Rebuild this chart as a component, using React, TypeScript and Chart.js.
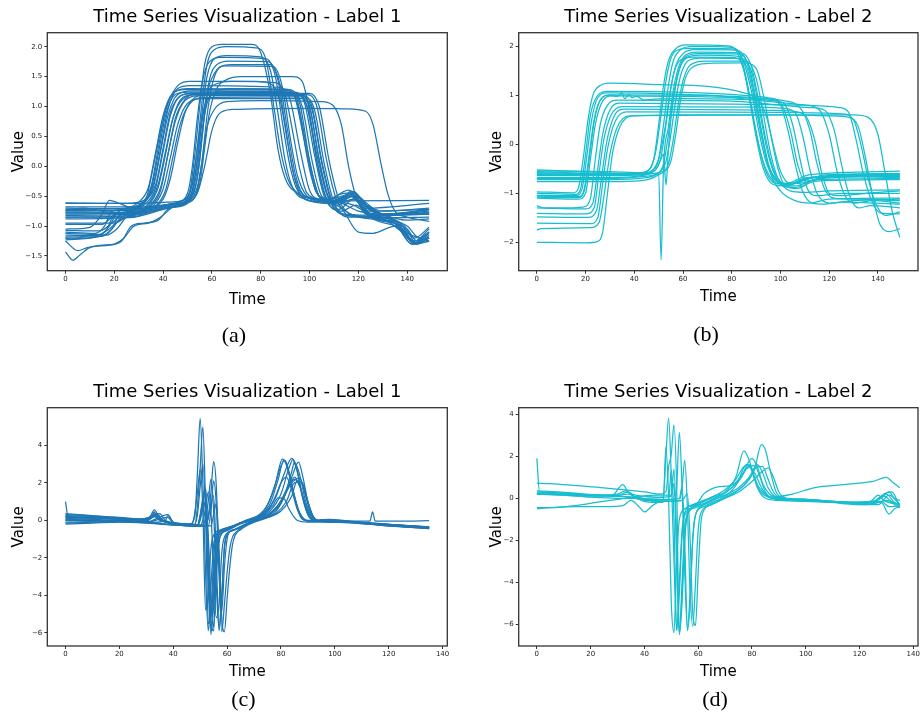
import React, { useEffect, useRef } from "react";
import { Chart, registerables } from "chart.js";

Chart.register(...registerables);

type Pt = [number, number];

const FONT = "'DejaVu Sans', sans-serif";
const BLUE = "#1f77b4";
const CYAN = "#17becf";

// ---------- text ----------
const titleLabel1 = "Time Series Visualization - Label 1";
const titleLabel2 = "Time Series Visualization - Label 2";
const xAxisLabel = "Time";
const yAxisLabel = "Value";
const captions = ["(a)", "(b)", "(c)", "(d)"];

// ---------- ticks ----------
const xTicksTop = [0, 20, 40, 60, 80, 100, 120, 140];
const xTicksBottom = [0, 20, 40, 60, 80, 100, 120, 140];
const yTicksA = [-1.5, -1.0, -0.5, 0, 0.5, 1.0, 1.5, 2.0];
const yTicksB = [-2, -1, 0, 1, 2];
const yTicksC = [-6, -4, -2, 0, 2, 4];
const yTicksD = [-6, -4, -2, 0, 2, 4];

// ---------- axis limits ----------
const xLimitsTop = [-7.45, 156.45];
const xLimitsBottom = [-6.75, 141.75];
const yLimitsA = [-1.746, 2.234];
const yLimitsB = [-2.58, 2.278];
const yLimitsC = [-6.71, 6.01];
const yLimitsD = [-7.03, 4.31];

// ---------- series (time, value) ----------
const seriesA: Pt[][] = [
  [[0,-0.61],[25,-0.62],[33,-0.55],[37,-0.3],[40,0.3],[43,0.9],[47,1.17],[52,1.22],[95,1.21],[99,1.0],[103,0.2],[107,-0.45],[111,-0.58],[149,-0.57]],
  [[0,-0.7],[20,-0.71],[32,-0.6],[36,-0.35],[39,0.25],[42,0.85],[46,1.2],[52,1.26],[94,1.24],[98,1.05],[102,0.2],[106,-0.5],[112,-0.72],[118,-0.55],[124,-0.75],[149,-0.72]],
  [[0,-0.74],[22,-0.74],[31,-0.62],[35,-0.35],[38,0.3],[41,0.95],[45,1.25],[50,1.3],[92,1.28],[96,1.05],[100,0.1],[104,-0.5],[110,-0.6],[117,-0.45],[123,-0.8],[135,-0.9],[143,-1.3],[149,-1.2]],
  [[0,-0.78],[25,-0.77],[34,-0.62],[38,-0.3],[41,0.25],[44,0.8],[48,1.12],[54,1.2],[96,1.2],[100,1.0],[104,0.1],[108,-0.55],[114,-0.8],[130,-0.82],[149,-0.8]],
  [[0,-0.82],[26,-0.8],[35,-0.64],[39,-0.35],[42,0.2],[45,0.75],[49,1.1],[55,1.18],[97,1.18],[101,1.0],[105,0.1],[109,-0.55],[115,-0.82],[128,-0.85],[138,-1.1],[143,-1.25],[149,-1.05]],
  [[0,-0.85],[28,-0.84],[37,-0.66],[41,-0.4],[44,0.15],[47,0.7],[51,1.05],[57,1.15],[98,1.16],[102,0.95],[106,0.05],[110,-0.6],[116,-0.85],[149,-0.78]],
  [[0,-1.1],[12,-1.12],[16,-1.0],[19,-0.75],[24,-0.72],[31,-0.64],[35,-0.4],[38,0.2],[41,0.85],[45,1.2],[50,1.24],[93,1.23],[97,1.0],[101,0.1],[105,-0.5],[111,-0.62],[117,-0.5],[124,-0.82],[137,-1.0],[143,-1.3],[149,-1.15]],
  [[0,-1.15],[13,-1.16],[17,-1.05],[20,-0.8],[26,-0.76],[33,-0.62],[37,-0.35],[40,0.25],[43,0.85],[47,1.18],[52,1.22],[95,1.22],[99,1.0],[103,0.1],[107,-0.55],[113,-0.75],[119,-0.65],[125,-0.85],[140,-1.05],[144,-1.25],[149,-1.1]],
  [[0,-1.18],[15,-1.17],[19,-1.05],[22,-0.82],[28,-0.78],[34,-0.65],[38,-0.35],[41,0.2],[44,0.8],[48,1.15],[53,1.2],[96,1.2],[100,1.0],[104,0.1],[108,-0.55],[113,-0.6],[118,-0.45],[124,-0.7],[132,-0.85],[139,-1.1],[145,-1.2],[149,-1.25]],
  [[0,-1.2],[3,-1.22],[10,-1.15],[17,-1.15],[21,-1.05],[25,-0.85],[30,-0.78],[36,-0.66],[40,-0.38],[43,0.15],[46,0.7],[50,1.05],[56,1.13],[97,1.13],[101,0.95],[105,0.05],[109,-0.6],[115,-0.82],[132,-0.86],[149,-0.85]],
  [[0,-0.97],[15,-0.97],[19,-0.85],[23,-0.73],[30,-0.68],[33,-0.58],[36,-0.3],[39,0.3],[42,0.95],[46,1.3],[51,1.35],[88,1.32],[92,1.12],[96,0.3],[100,-0.4],[104,-0.55],[112,-0.58],[118,-0.42],[124,-0.72],[132,-0.8],[149,-0.73]],
  [[0,-1.05],[10,-1.02],[15,-0.8],[18,-0.57],[22,-0.62],[28,-0.7],[33,-0.55],[36,0.0],[39,0.6],[42,1.05],[46,1.35],[51,1.42],[78,1.42],[84,1.38],[88,1.1],[91,0.4],[94,-0.2],[98,-0.5],[106,-0.56],[115,-0.45],[121,-0.55],[128,-0.8],[149,-0.78]],
  [[0,-1.23],[5,-1.22],[12,-1.18],[18,-1.05],[22,-0.9],[27,-0.82],[33,-0.72],[40,-0.55],[43,-0.2],[46,0.4],[49,0.9],[53,1.15],[58,1.2],[99,1.2],[103,1.0],[107,0.1],[111,-0.55],[117,-0.8],[125,-0.88],[135,-0.95],[142,-1.25],[149,-1.2]],
  [[0,-0.74],[8,-0.7],[16,-0.75],[25,-0.7],[30,-0.6],[34,-0.35],[37,0.25],[40,0.85],[44,1.22],[49,1.28],[91,1.27],[95,1.05],[99,0.2],[103,-0.45],[108,-0.55],[116,-0.48],[122,-0.62],[130,-0.75],[149,-0.7]],
  [[0,-1.12],[14,-1.14],[18,-1.0],[21,-0.8],[27,-0.76],[35,-0.66],[39,-0.4],[42,0.2],[45,0.8],[49,1.12],[54,1.22],[100,1.22],[104,1.0],[108,0.1],[112,-0.55],[118,-0.82],[130,-0.85],[138,-1.0],[143,-1.2],[149,-1.02]],
  [[0,-0.62],[30,-0.62],[42,-0.6],[48,-0.57],[51,-0.4],[53,0.2],[55,1.0],[57,1.7],[60,2.0],[64,2.04],[76,2.04],[80,1.9],[84,1.2],[87,0.3],[90,-0.2],[95,-0.45],[100,-0.52],[110,-0.58],[117,-0.45],[123,-0.7],[149,-0.62]],
  [[0,-0.72],[32,-0.7],[44,-0.62],[49,-0.55],[52,-0.3],[54,0.3],[56,1.1],[58,1.7],[61,1.95],[66,2.0],[78,1.98],[82,1.8],[85,1.1],[88,0.3],[91,-0.2],[95,-0.45],[101,-0.55],[112,-0.6],[118,-0.5],[125,-0.8],[137,-0.95],[143,-1.28],[149,-1.18]],
  [[0,-0.75],[30,-0.73],[43,-0.65],[49,-0.6],[52,-0.4],[54,0.1],[56,0.9],[58,1.5],[61,1.8],[66,1.85],[80,1.83],[84,1.6],[87,0.9],[90,0.1],[93,-0.35],[98,-0.55],[106,-0.6],[116,-0.4],[122,-0.6],[130,-0.82],[149,-0.8]],
  [[0,-0.8],[25,-0.78],[40,-0.68],[46,-0.6],[50,-0.45],[52,0.0],[54,0.8],[56,1.4],[59,1.75],[64,1.82],[82,1.8],[86,1.5],[89,0.7],[92,0.0],[95,-0.4],[100,-0.58],[108,-0.62],[118,-0.5],[125,-0.85],[138,-1.05],[144,-1.3],[149,-1.25]],
  [[0,-0.78],[30,-0.78],[44,-0.66],[50,-0.6],[53,-0.4],[55,0.1],[57,0.9],[59,1.45],[62,1.7],[67,1.76],[83,1.75],[87,1.45],[90,0.7],[93,-0.05],[96,-0.45],[101,-0.58],[110,-0.62],[119,-0.55],[126,-0.82],[149,-0.75]],
  [[0,-0.85],[28,-0.82],[42,-0.7],[50,-0.62],[54,-0.4],[56,0.1],[58,0.85],[60,1.35],[63,1.65],[68,1.7],[84,1.7],[88,1.35],[91,0.6],[94,-0.1],[97,-0.45],[102,-0.55],[112,-0.6],[120,-0.75],[130,-0.82],[139,-1.0],[144,-1.3],[149,-1.2]],
  [[0,-1.43],[3,-1.57],[6,-1.48],[10,-1.36],[18,-1.32],[23,-1.25],[27,-1.0],[32,-0.95],[38,-0.9],[42,-0.72],[47,-0.65],[51,-0.55],[54,-0.2],[56,0.5],[58,1.2],[61,1.55],[65,1.68],[85,1.67],[89,1.3],[92,0.5],[95,-0.15],[99,-0.5],[105,-0.6],[113,-0.7],[120,-1.1],[126,-1.12],[135,-1.0],[142,-1.3],[149,-1.25]],
  [[0,-1.25],[5,-1.41],[9,-1.36],[15,-1.32],[20,-1.3],[24,-1.2],[28,-1.0],[34,-0.95],[39,-0.85],[44,-0.68],[50,-0.6],[55,-0.3],[57,0.3],[59,0.9],[62,1.3],[66,1.45],[72,1.5],[93,1.5],[97,1.42],[100,0.9],[103,0.1],[106,-0.45],[111,-0.65],[118,-0.55],[125,-0.8],[149,-0.78]],
  [[0,-1.07],[14,-1.08],[19,-0.95],[24,-0.78],[32,-0.7],[42,-0.64],[49,-0.58],[52,-0.4],[54,0.1],[56,0.75],[58,1.2],[62,1.38],[68,1.42],[86,1.4],[90,1.2],[93,0.6],[96,-0.05],[99,-0.45],[104,-0.55],[112,-0.58],[117,-0.42],[123,-0.6],[130,-0.8],[149,-0.72]],
  [[0,-0.68],[30,-0.68],[44,-0.63],[50,-0.58],[54,-0.35],[56,0.1],[58,0.65],[61,0.95],[66,1.08],[80,1.1],[105,1.08],[110,1.0],[113,0.7],[116,0.0],[119,-0.5],[123,-0.75],[130,-0.85],[140,-1.0],[145,-1.2],[149,-1.1]],
  [[0,-0.88],[26,-0.86],[40,-0.72],[48,-0.62],[54,-0.45],[57,0.0],[60,0.6],[63,0.88],[68,0.95],[100,0.97],[115,0.96],[123,0.92],[126,0.7],[129,0.1],[132,-0.45],[135,-0.75],[140,-0.85],[149,-0.92]],
  [[0,-1.2],[8,-1.2],[15,-1.16],[19,-1.05],[23,-0.85],[30,-0.78],[40,-0.7],[48,-0.63],[52,-0.45],[54,-0.05],[56,0.6],[58,1.05],[62,1.25],[67,1.3],[90,1.29],[94,1.15],[97,0.6],[100,-0.05],[103,-0.45],[108,-0.58],[116,-0.5],[122,-0.62],[130,-0.8],[140,-0.9],[149,-0.88]],
  [[0,-0.95],[20,-0.95],[25,-0.85],[32,-0.78],[42,-0.68],[48,-0.62],[51,-0.45],[53,0.0],[55,0.6],[57,1.0],[60,1.2],[65,1.25],[92,1.24],[95,1.1],[98,0.5],[101,-0.1],[104,-0.5],[110,-0.6],[118,-0.65],[126,-0.85],[135,-0.95],[142,-1.3],[149,-1.12]],
];

const seriesB: Pt[][] = [
  [[0,-0.97],[15,-0.99],[17,-0.9],[19,-0.3],[21,0.5],[23,1.0],[26,1.2],[30,1.25],[50,1.22],[70,1.18],[85,1.05],[90,0.95],[94,0.6],[97,0.0],[100,-0.55],[104,-0.8],[110,-0.78],[120,-0.65],[149,-0.62]],
  [[0,-1.0],[16,-1.02],[18,-0.9],[20,-0.2],[22,0.6],[25,1.0],[29,1.08],[60,1.06],[85,1.0],[95,0.95],[100,0.85],[104,0.3],[107,-0.4],[110,-0.75],[115,-0.72],[125,-0.62],[149,-0.6]],
  [[0,-1.04],[16,-1.05],[18.5,-0.92],[20.5,-0.25],[22.5,0.5],[25,0.95],[29,1.05],[60,1.02],[90,0.95],[100,0.9],[108,0.75],[112,0.3],[115,-0.4],[118,-0.9],[122,-1.1],[130,-1.12],[149,-1.15]],
  [[0,-1.08],[17,-1.09],[19.5,-0.95],[21.5,-0.3],[23.5,0.45],[26,0.9],[30,1.01],[70,1.0],[90,0.9],[100,0.85],[110,0.8],[116,0.7],[120,0.2],[123,-0.5],[126,-1.0],[130,-1.2],[138,-1.15],[149,-1.2]],
  [[0,-1.1],[17,-1.12],[20,-1.0],[22,-0.3],[24,0.4],[27,0.88],[31,0.99],[70,0.97],[95,0.92],[100,0.8],[103,0.3],[106,-0.4],[109,-0.95],[113,-1.2],[118,-1.22],[125,-1.18],[149,-1.22]],
  [[0,-1.25],[3,-1.3],[10,-1.3],[19,-1.28],[22,-1.1],[24,-0.3],[26,0.4],[29,0.8],[33,0.9],[80,0.88],[100,0.8],[112,0.75],[118,0.7],[122,0.3],[125,-0.4],[128,-1.0],[132,-1.3],[137,-1.25],[149,-1.3]],
  [[0,-1.3],[20,-1.32],[23,-1.2],[25,-0.5],[27,0.2],[30,0.7],[34,0.84],[80,0.82],[110,0.8],[124,0.75],[128,0.65],[131,0.1],[134,-0.6],[137,-1.1],[141,-1.4],[149,-1.42]],
  [[0,-1.41],[20,-1.42],[23.5,-1.3],[25.5,-0.6],[27.5,0.1],[30.5,0.6],[35,0.77],[90,0.76],[100,0.74],[106,0.65],[109,0.2],[112,-0.5],[115,-1.0],[120,-1.2],[130,-1.15],[149,-1.12]],
  [[0,-1.48],[21,-1.49],[24.5,-1.35],[26.5,-0.7],[28.5,0.0],[31.5,0.55],[36,0.72],[90,0.7],[104,0.68],[110,0.6],[114,0.1],[117,-0.6],[120,-1.0],[124,-1.05],[135,-1.0],[149,-0.95]],
  [[0,-1.61],[22,-1.62],[25,-1.5],[27,-0.8],[29,-0.1],[32,0.45],[37,0.66],[100,0.65],[125,0.62],[130,0.5],[133,0.0],[136,-0.7],[139,-1.2],[143,-1.45],[149,-1.38]],
  [[0,-1.75],[2,-1.72],[22,-1.7],[25.5,-1.6],[28,-0.9],[30,-0.2],[33,0.35],[38,0.58],[100,0.6],[130,0.6],[136,0.55],[140,0.2],[143,-0.6],[146,-1.4],[149,-1.9]],
  [[0,-2.0],[20,-2.01],[25,-1.98],[27,-1.8],[29,-1.0],[31,-0.2],[34,0.35],[39,0.58],[60,0.6],[100,0.6],[120,0.58],[128,0.55],[132,0.35],[135,-0.3],[138,-1.1],[141,-1.65],[145,-1.78],[149,-1.72]],
  [[0,-1.06],[17,-1.07],[19.5,-0.9],[21.5,-0.2],[23.5,0.5],[26,0.9],[30,1.0],[33,0.98],[35,1.05],[36,0.93],[38,1.02],[39,0.95],[41,0.98],[44,0.9],[48,0.92],[60,0.93],[80,0.92],[95,0.9],[101,0.85],[105,0.4],[108,-0.3],[111,-0.9],[115,-1.05],[125,-1.0],[149,-1.0]],
  [[0,-0.52],[20,-0.56],[40,-0.6],[45,-0.55],[48,-0.3],[50,0.4],[52,1.2],[54,1.7],[57,1.95],[61,2.03],[78,2.01],[82,1.9],[86,1.3],[89,0.5],[92,-0.2],[95,-0.6],[99,-0.8],[104,-0.78],[112,-0.62],[149,-0.55]],
  [[0,-0.56],[25,-0.6],[42,-0.62],[47,-0.55],[50,-0.3],[52,0.4],[54,1.2],[56,1.7],[59,1.93],[64,2.0],[80,1.98],[84,1.8],[88,1.1],[91,0.3],[94,-0.35],[98,-0.72],[103,-0.82],[110,-0.72],[120,-0.62],[149,-0.6]],
  [[0,-0.6],[30,-0.62],[44,-0.6],[49,-0.5],[51,-0.25],[53,0.4],[55,1.15],[57,1.6],[60,1.85],[65,1.93],[82,1.92],[86,1.7],[89,1.1],[92,0.3],[95,-0.4],[99,-0.75],[104,-0.82],[112,-0.7],[125,-0.65],[149,-0.68]],
  [[0,-0.64],[30,-0.64],[44,-0.62],[48,-0.6],[50,-0.62],[51,-2.36],[52,-0.45],[54,0.35],[56,1.1],[58,1.55],[61,1.82],[66,1.88],[84,1.86],[88,1.6],[91,0.9],[94,0.1],[97,-0.5],[101,-0.8],[106,-0.85],[115,-0.72],[149,-0.7]],
  [[0,-0.68],[30,-0.68],[45,-0.62],[49,-0.5],[51,-0.3],[52,-0.2],[53,-0.83],[54,-0.1],[55,0.5],[57,1.2],[59,1.6],[62,1.78],[67,1.82],[82,1.8],[86,1.6],[89,1.0],[92,0.2],[95,-0.45],[99,-0.78],[104,-0.8],[112,-0.68],[149,-0.65]],
  [[0,-0.72],[30,-0.72],[45,-0.68],[50,-0.58],[53,-0.35],[55,0.2],[57,0.9],[59,1.4],[62,1.7],[67,1.76],[84,1.75],[88,1.5],[91,0.8],[94,0.0],[97,-0.55],[101,-0.85],[106,-0.88],[115,-0.75],[149,-0.72]],
  [[0,-0.76],[30,-0.76],[43,-0.74],[50,-0.62],[54,-0.4],[56,0.1],[58,0.8],[60,1.3],[63,1.62],[69,1.7],[86,1.7],[90,1.35],[93,0.6],[96,-0.2],[99,-0.7],[104,-0.95],[110,-0.98],[120,-0.95],[149,-0.93]],
  [[0,-0.58],[30,-0.6],[45,-0.6],[52,-0.55],[55,-0.35],[57,0.2],[59,0.9],[61,1.35],[64,1.58],[70,1.65],[85,1.66],[90,1.55],[93,1.0],[96,0.2],[99,-0.5],[102,-0.85],[107,-0.9],[115,-0.7],[149,-0.66]],
  [[0,-0.62],[30,-0.6],[43,-0.58],[47,-0.45],[49,-0.1],[51,0.6],[53,1.3],[55,1.75],[58,1.93],[63,1.96],[80,1.95],[84,1.75],[87,1.0],[90,0.15],[93,-0.5],[97,-0.82],[102,-0.85],[110,-0.7],[125,-0.63],[149,-0.62]],
  [[0,-0.7],[30,-0.7],[45,-0.65],[50,-0.58],[52,-0.4],[54,0.2],[56,0.95],[58,1.45],[61,1.78],[66,1.85],[83,1.84],[87,1.6],[90,0.9],[93,0.05],[96,-0.6],[100,-0.95],[106,-1.15],[112,-1.2],[120,-1.12],[149,-1.1]],
  [[0,-0.54],[30,-0.56],[44,-0.58],[48,-0.5],[50,-0.3],[52.5,0.3],[54.5,1.0],[56.5,1.5],[59,1.72],[64,1.78],[81,1.77],[85,1.55],[88,0.8],[91,0.0],[94,-0.55],[98,-0.8],[103,-0.82],[111,-0.68],[149,-0.64]],
];

const seriesC: Pt[][] = [
  [[0,0.3],[8,0.25],[18,0.15],[28,0.05],[31,0.1],[33,0.55],[35,0.1],[40,-0.15],[46,-0.2],[48,0.2],[49,2.6],[50,5.44],[51,2.0],[52,-2.8],[53,-5.9],[54,-3.5],[55,-1.3],[56,-0.75],[59,-0.5],[64,-0.2],[68,0.05],[72,0.3],[75,0.8],[78,2.0],[80.5,3.27],[82,3.0],[84,1.8],[86,0.7],[88,0.1],[91,-0.05],[100,-0.05],[110,-0.15],[120,-0.28],[135,-0.38]],
  [[0,0.15],[10,0.1],[20,0.05],[30,-0.05],[34,0.35],[36,0.0],[42,-0.2],[48,-0.25],[49,0.8],[50,2.8],[51,4.99],[52,1.0],[53,-3.5],[54,-6.1],[55,-3.8],[56,-1.3],[57,-0.7],[60,-0.45],[65,-0.15],[70,0.1],[74,0.4],[78,1.2],[81,2.4],[84,3.3],[86,2.6],[88,1.2],[90,0.3],[93,0.0],[103,-0.05],[115,-0.22],[135,-0.42]],
  [[0,1.0],[1,0.2],[10,0.12],[20,0.05],[30,-0.1],[38,0.3],[40,-0.1],[46,-0.28],[52,-0.3],[53,0.2],[54,1.5],[55,3.13],[56,1.8],[57,-2.5],[58,-5.95],[59,-4.5],[60,-2.8],[61,-1.5],[62,-0.9],[64,-0.55],[68,-0.15],[72,0.1],[77,0.5],[81,1.3],[84,2.3],[86.5,3.1],[88,2.4],[90,1.0],[92,0.2],[95,-0.05],[105,-0.05],[115,-0.2],[135,-0.4]],
  [[0,-0.2],[10,-0.15],[20,-0.1],[30,-0.15],[40,-0.25],[46,-0.25],[51,-0.25],[52,0.1],[53,1.0],[54,2.2],[55,0.5],[56,-3.5],[57,-5.7],[58,-4.0],[59,-1.5],[60,-0.8],[63,-0.5],[67,-0.2],[72,0.05],[76,0.35],[80,1.0],[84,2.0],[87,2.25],[89,1.4],[91,0.4],[93,0.0],[100,-0.1],[112,-0.2],[135,-0.4]],
  [[0,0.05],[12,0.0],[25,-0.05],[33,0.2],[35,0.0],[44,-0.25],[49,-0.25],[50,0.3],[51,1.2],[52,1.75],[53,-1.5],[54,-5.95],[55,-4.5],[56,-1.8],[57,-0.8],[60,-0.5],[65,-0.15],[70,0.05],[74,0.3],[77,0.8],[79,1.2],[81,1.17],[83,0.6],[86,0.0],[90,-0.1],[100,-0.1],[114,-0.2],[135,-0.35]],
  [[0,0.25],[10,0.2],[20,0.1],[30,0.05],[35,0.35],[37,0.0],[43,-0.2],[47,-0.2],[48,0.4],[49,1.5],[50,2.7],[51,0.5],[52,-4.8],[53,-4.0],[54,-1.5],[55,-0.8],[58,-0.5],[63,-0.25],[68,0.0],[72,0.25],[76,0.9],[79,2.2],[81,3.2],[83,2.5],[85,1.3],[87,0.4],[90,0.0],[98,0.05],[108,-0.05],[113,-0.05],[114,0.45],[115,-0.05],[125,-0.05],[135,-0.02]],
  [[0,-0.1],[10,-0.08],[20,-0.05],[30,-0.1],[38,0.15],[40,-0.15],[47,-0.3],[50,-0.3],[51,0.0],[52,0.6],[53,1.5],[54,0.5],[55,-3.0],[56,-5.2],[57,-4.5],[58,-1.8],[59,-0.9],[62,-0.55],[66,-0.25],[71,0.0],[76,0.3],[80,0.9],[83,1.8],[85,2.3],[87,1.8],[89,0.8],[91,0.1],[94,-0.05],[104,-0.05],[118,-0.25],[135,-0.45]],
  [[0,0.2],[10,0.15],[20,0.08],[30,0.0],[34,0.25],[36,0.0],[42,-0.2],[49,-0.3],[50,0.0],[51,0.6],[52,0.9],[53,-0.8],[54,-4.0],[55,-5.7],[56,-3.0],[57,-1.2],[58,-0.7],[61,-0.45],[66,-0.1],[71,0.15],[75,0.5],[78,1.3],[80,2.0],[82,2.3],[84,1.6],[86,0.6],[88,0.05],[92,-0.05],[105,-0.1],[120,-0.3],[135,-0.4]],
  [[0,0.0],[10,-0.05],[20,-0.05],[30,-0.12],[40,-0.25],[48,-0.3],[52,-0.3],[53,0.1],[54,0.9],[55,1.3],[56,-2.0],[57,-5.9],[58,-4.2],[59,-1.4],[60,-0.75],[63,-0.5],[68,-0.2],[73,0.05],[78,0.35],[82,1.0],[85,2.0],[87.5,2.05],[89,1.4],[91,0.5],[93,0.0],[100,-0.05],[112,-0.15],[135,-0.35]],
  [[0,0.1],[10,0.05],[20,0.0],[30,-0.05],[33,0.3],[35,0.05],[42,-0.2],[50,-0.3],[53,-0.3],[54,0.5],[55,2.1],[56,0.8],[57,-2.8],[58,-4.9],[59,-2.5],[60,-1.0],[61,-0.6],[64,-0.45],[68,-0.15],[73,0.1],[78,0.45],[81,1.2],[84,2.6],[85,3.1],[87,2.4],[89,1.1],[91,0.3],[94,-0.05],[104,-0.1],[120,-0.28],[135,-0.42]],
  [[0,0.35],[10,0.25],[20,0.15],[30,0.05],[33,0.4],[35,0.1],[42,-0.15],[48,-0.2],[49,0.3],[50,1.8],[51,3.0],[52,0.3],[53,-5.5],[54,-5.0],[55,-2.0],[56,-0.9],[59,-0.5],[63,-0.25],[67,0.0],[71,0.2],[74,0.6],[77,1.5],[80,2.9],[81.5,3.2],[83,2.6],[85,1.3],[87,0.3],[90,-0.05],[100,-0.05],[115,-0.18],[135,-0.36]],
  [[0,-0.15],[10,-0.1],[20,-0.08],[30,-0.12],[37,-0.05],[38,0.25],[40,-0.1],[47,-0.3],[49,-0.3],[50,0.1],[51,0.9],[52,1.7],[53,-2.0],[54,-5.3],[55,-5.9],[56,-2.5],[57,-1.0],[60,-0.55],[65,-0.2],[70,0.0],[75,0.3],[79,0.8],[82,1.6],[85,2.2],[87,1.8],[89,0.9],[91,0.2],[94,-0.05],[105,-0.1],[120,-0.3],[135,-0.44]],
  [[0,0.2],[15,0.1],[25,0.05],[32,0.15],[33,0.45],[34,0.1],[42,-0.18],[49,-0.25],[50,0.2],[51,1.0],[52,0.6],[53,-3.0],[54,-5.2],[55,-3.2],[56,-1.0],[57,-0.6],[60,-0.4],[66,-0.1],[71,0.15],[76,0.5],[80,1.4],[83,2.8],[84.5,3.25],[86,2.7],[88,1.3],[90,0.3],[93,-0.05],[105,-0.08],[120,-0.25],[135,-0.35]],
  [[0,0.0],[10,0.0],[20,-0.05],[30,-0.08],[40,-0.25],[50,-0.3],[54,-0.3],[55,0.3],[56,0.9],[57,-1.5],[58,-5.2],[59,-5.95],[60,-4.2],[61,-2.5],[62,-1.3],[63,-0.8],[65,-0.5],[70,-0.1],[75,0.15],[80,0.5],[84,1.3],[86,2.1],[88,2.0],[90,1.0],[92,0.2],[95,-0.05],[110,-0.12],[135,-0.4]],
];

const seriesD: Pt[][] = [
  [[0,1.9],[1,0.3],[10,0.25],[20,0.15],[30,0.1],[40,0.0],[47,0.05],[48,2.0],[49,3.81],[50,1.0],[51,-3.0],[52,-6.3],[53,-4.0],[54,-1.5],[55,-0.8],[58,-0.45],[62,-0.25],[66,0.0],[70,0.3],[74,1.0],[77,2.25],[79,1.8],[81,0.9],[84,0.3],[88,0.0],[95,-0.05],[105,-0.1],[115,-0.2],[125,-0.25],[130,-0.1],[135,-0.35]],
  [[0,0.72],[5,0.7],[15,0.6],[25,0.5],[33,0.4],[40,0.3],[46,0.2],[48,0.3],[49,1.5],[50,2.1],[51,3.49],[52,0.5],[53,-6.5],[54,-4.5],[55,-1.8],[56,-0.8],[59,-0.45],[64,-0.2],[68,0.05],[72,0.3],[76,1.0],[80,1.9],[82,1.5],[84,0.7],[87,0.15],[92,0.0],[100,-0.05],[110,-0.15],[122,-0.2],[128,0.0],[131,0.3],[133,0.0],[135,-0.1]],
  [[0,0.35],[8,0.3],[18,0.2],[28,0.15],[32,0.65],[34,0.3],[40,0.1],[47,0.05],[50,0.1],[51,1.4],[52,-2.0],[53,-6.45],[54,-5.0],[55,-2.0],[56,-0.7],[59,-0.35],[62,0.2],[65,0.45],[68,0.55],[72,0.6],[76,1.0],[79,1.55],[81,1.2],[84,0.4],[87,0.0],[95,-0.1],[105,-0.15],[115,-0.2],[124,-0.15],[127,0.15],[129,-0.1],[135,-0.3]],
  [[0,0.25],[10,0.2],[20,0.12],[30,0.2],[33,0.35],[36,0.1],[42,-0.1],[48,-0.15],[51,-0.15],[52,0.5],[53,3.13],[54,0.5],[55,-3.5],[56,-6.2],[57,-4.5],[58,-1.8],[59,-0.8],[62,-0.4],[67,-0.1],[72,0.2],[77,0.6],[81,1.4],[83.5,2.55],[85,2.3],[87,1.2],[89,0.3],[92,0.0],[100,-0.1],[112,-0.2],[122,-0.3],[128,-0.2],[131,-0.75],[133,-0.5],[135,-0.4]],
  [[0,0.2],[10,0.15],[20,0.05],[30,0.0],[36,0.0],[40,-0.1],[46,-0.15],[53,-0.1],[54,0.5],[55,1.82],[56,-0.5],[57,-4.5],[58,-6.1],[59,-4.0],[60,-1.5],[61,-0.7],[64,-0.35],[69,-0.05],[74,0.3],[79,0.9],[82,1.5],[84,1.5],[86,0.9],[88,0.3],[91,0.0],[100,-0.05],[110,-0.2],[120,-0.3],[126,-0.1],[129,0.2],[132,0.3],[135,-0.4]],
  [[0,-0.5],[5,-0.45],[15,-0.4],[25,-0.4],[32,-0.35],[35,-0.1],[38,-0.4],[40,-0.65],[43,-0.35],[47,-0.1],[49,-0.1],[50,1.35],[51,-1.0],[52,-6.27],[53,-4.5],[54,-1.8],[55,-0.7],[58,-0.3],[62,-0.1],[66,0.1],[71,0.35],[75,0.9],[78,1.6],[80,1.3],[82,0.5],[85,0.0],[90,-0.1],[100,-0.15],[112,-0.2],[122,-0.3],[127,-0.3],[131,0.15],[135,-0.3]],
  [[0,-0.45],[6,-0.45],[14,-0.35],[22,-0.2],[30,-0.05],[36,0.05],[45,0.15],[50,0.15],[51,0.71],[52,-3.0],[53,-6.4],[54,-4.0],[55,-1.5],[56,-0.7],[60,-0.3],[65,0.05],[70,0.4],[74,0.9],[77,1.5],[79,1.6],[81,1.0],[83,0.35],[87,0.05],[95,0.2],[103,0.5],[110,0.6],[118,0.7],[125,0.8],[130,1.0],[132,0.8],[135,0.5]],
  [[0,0.2],[10,0.15],[20,0.1],[28,0.1],[34,0.2],[38,0.0],[44,-0.05],[50,-0.05],[53,0.0],[54,0.55],[55,-2.0],[56,-6.3],[57,-5.0],[58,-2.0],[59,-0.8],[61,-0.4],[65,-0.1],[70,0.15],[75,0.5],[79,1.0],[82,1.6],[84,1.2],[86,0.5],[89,0.05],[95,-0.1],[105,-0.15],[115,-0.2],[125,-0.2],[130,0.2],[133,-0.2],[135,-0.3]],
  [[0,0.3],[10,0.25],[20,0.15],[30,0.15],[34,0.3],[37,0.0],[43,-0.2],[47,-0.2],[48,2.46],[49,0.0],[50,-5.0],[51,-6.4],[52,-3.0],[53,-1.0],[55,-0.5],[60,-0.25],[65,0.0],[70,0.25],[74,0.7],[78,1.4],[81,1.55],[83,1.0],[85,0.3],[88,0.0],[95,-0.05],[105,-0.1],[118,-0.2],[128,-0.15],[131,-0.4],[135,-0.35]],
  [[0,0.22],[10,0.2],[20,0.12],[30,0.1],[36,0.05],[44,-0.1],[50,-0.15],[54,-0.1],[56,0.2],[57,-2.0],[58,-5.5],[59,-6.05],[60,-3.5],[61,-1.2],[62,-0.6],[65,-0.3],[70,0.0],[75,0.3],[80,0.8],[84,1.3],[86,1.45],[88,1.0],[90,0.3],[93,0.0],[100,-0.05],[110,-0.15],[120,-0.25],[126,-0.15],[129,0.1],[133,-0.3],[135,-0.45]],
];

// ---------- layout / style of the four panels ----------
interface PanelSpec {
  series: Pt[][];
  color: string;
  xLimits: number[];
  yLimits: number[];
  xTicks: number[];
  yTicks: number[];
  yDigits: number;
  title: string;
  box: { left: number; top: number; width: number; height: number };
  area: { left: number; top: number; right: number; bottom: number };
  titlePadTop: number;
  yTitlePadTop: number;
  xTitlePadBottom: number;
}

const panelSpecs: PanelSpec[] = [
  {
    series: seriesA, color: BLUE, xLimits: xLimitsTop, yLimits: yLimitsA,
    xTicks: xTicksTop, yTicks: yTicksA, yDigits: 1, title: titleLabel1,
    box: { left: 0, top: 0, width: 462, height: 356 },
    area: { left: 47.3, top: 32.7, right: 447.3, bottom: 270.7 },
    titlePadTop: 6.2, yTitlePadTop: 10, xTitlePadBottom: 46.5,
  },
  {
    series: seriesB, color: CYAN, xLimits: xLimitsTop, yLimits: yLimitsB,
    xTicks: xTicksTop, yTicks: yTicksB, yDigits: 0, title: titleLabel2,
    box: { left: 462, top: 0, width: 462, height: 356 },
    area: { left: 56.7, top: 32.7, right: 456.0, bottom: 270.7 },
    titlePadTop: 6.2, yTitlePadTop: 26, xTitlePadBottom: 49.5,
  },
  {
    series: seriesC, color: BLUE, xLimits: xLimitsBottom, yLimits: yLimitsC,
    xTicks: xTicksBottom, yTicks: yTicksC, yDigits: 0, title: titleLabel1,
    box: { left: 0, top: 356, width: 462, height: 357 },
    area: { left: 47.3, top: 51.7, right: 447.3, bottom: 290 },
    titlePadTop: 25.4, yTitlePadTop: 10, xTitlePadBottom: 31.8,
  },
  {
    series: seriesD, color: CYAN, xLimits: xLimitsBottom, yLimits: yLimitsD,
    xTicks: xTicksBottom, yTicks: yTicksD, yDigits: 0, title: titleLabel2,
    box: { left: 462, top: 356, width: 462, height: 357 },
    area: { left: 56.7, top: 51.7, right: 456.0, bottom: 290 },
    titlePadTop: 25.4, yTitlePadTop: 26, xTitlePadBottom: 31.8,
  },
];

const captionPlaces = [
  { cx: 234, cy: 336.5 },
  { cx: 706, cy: 336 },
  { cx: 243.5, cy: 701 },
  { cx: 715, cy: 701 },
];

const fmtTick = (v: number, digits: number) => {
  const s = Math.abs(v).toFixed(digits);
  return v < 0 ? "\u2212" + s : s;
};

const framePlugin = {
  id: "axesFrame",
  afterDraw(chart: any) {
    const { ctx, chartArea: a } = chart;
    ctx.save();
    ctx.strokeStyle = "#333333";
    ctx.lineWidth = 1.3;
    ctx.strokeRect(a.left, a.top, a.right - a.left, a.bottom - a.top);
    ctx.restore();
  },
};

function Panel({ spec }: { spec: PanelSpec }) {
  const ref = useRef<HTMLCanvasElement>(null);
  useEffect(() => {
    const canvas = ref.current;
    if (!canvas) return;
    const s = spec;
    const tickFont = { family: FONT, size: 7 };
    const chart = new Chart(canvas, {
      type: "line",
      data: {
        datasets: s.series.map((pts) => ({
          data: pts.map(([x, y]) => ({ x, y })),
          borderColor: s.color,
          borderWidth: 1.25,
          pointRadius: 0,
          fill: false,
          cubicInterpolationMode: "monotone" as const,
        })),
      },
      options: {
        animation: false,
        responsive: false,
        events: [],
        layout: { padding: { left: 0, top: 0, bottom: 0, right: s.box.width - s.area.right } },
        plugins: { legend: { display: false }, tooltip: { enabled: false }, title: { display: false } },
        scales: {
          x: {
            type: "linear",
            position: "bottom",
            min: s.xLimits[0],
            max: s.xLimits[1],
            afterBuildTicks: (sc: any) => { sc.ticks = s.xTicks.map((v) => ({ value: v })); },
            afterFit: (sc: any) => { sc.height = s.box.height - s.area.bottom; },
            ticks: { autoSkip: false, maxRotation: 0, minRotation: 0, font: tickFont, color: "#222", padding: 1, callback: (v: any) => fmtTick(Number(v), 0) },
            grid: { display: true, drawOnChartArea: false, drawTicks: true, tickLength: 3, color: "#333", lineWidth: 1 },
            border: { display: false },
            title: { display: true, text: xAxisLabel, color: "#000", font: { family: FONT, size: 15 }, padding: { top: 0, bottom: s.xTitlePadBottom } },
          },
          y: {
            type: "linear",
            position: "left",
            min: s.yLimits[0],
            max: s.yLimits[1],
            afterBuildTicks: (sc: any) => { sc.ticks = s.yTicks.map((v) => ({ value: v })); },
            afterFit: (sc: any) => { sc.width = s.area.left; },
            ticks: { autoSkip: false, font: tickFont, color: "#222", padding: 2, callback: (v: any) => fmtTick(Number(v), s.yDigits) },
            grid: { display: true, drawOnChartArea: false, drawTicks: true, tickLength: 3, color: "#333", lineWidth: 1 },
            border: { display: false },
            title: { display: true, text: yAxisLabel, color: "#000", font: { family: FONT, size: 15 }, padding: { top: s.yTitlePadTop, bottom: 0 } },
          },
          top: {
            type: "linear",
            axis: "x",
            position: "top",
            min: s.xLimits[0],
            max: s.xLimits[1],
            afterFit: (sc: any) => { sc.height = s.area.top; },
            ticks: { display: false },
            grid: { display: false, drawTicks: false },
            border: { display: false },
            title: { display: true, text: s.title, color: "#000", font: { family: FONT, size: 18 }, padding: { top: s.titlePadTop, bottom: 0 } },
          },
        },
      } as any,
      plugins: [framePlugin],
    });
    return () => chart.destroy();
  }, [spec]);
  return (
    <canvas
      ref={ref}
      width={spec.box.width}
      height={spec.box.height}
      style={{ position: "absolute", left: spec.box.left, top: spec.box.top, width: spec.box.width, height: spec.box.height }}
    />
  );
}

export default function App() {
  return (
    <div style={{ position: "absolute", left: 0, top: 0, width: 924, height: 713, background: "#fff", overflow: "hidden" }}>
      {panelSpecs.map((spec, i) => (
        <Panel key={i} spec={spec} />
      ))}
      {captions.map((c, i) => (
        <div
          key={c}
          style={{
            position: "absolute",
            left: captionPlaces[i].cx - 40,
            top: captionPlaces[i].cy - 13.8,
            width: 80,
            textAlign: "center",
            fontFamily: "'Liberation Serif', serif",
            fontSize: 22,
            lineHeight: "24px",
            color: "#000",
          }}
        >
          {c}
        </div>
      ))}
    </div>
  );
}
